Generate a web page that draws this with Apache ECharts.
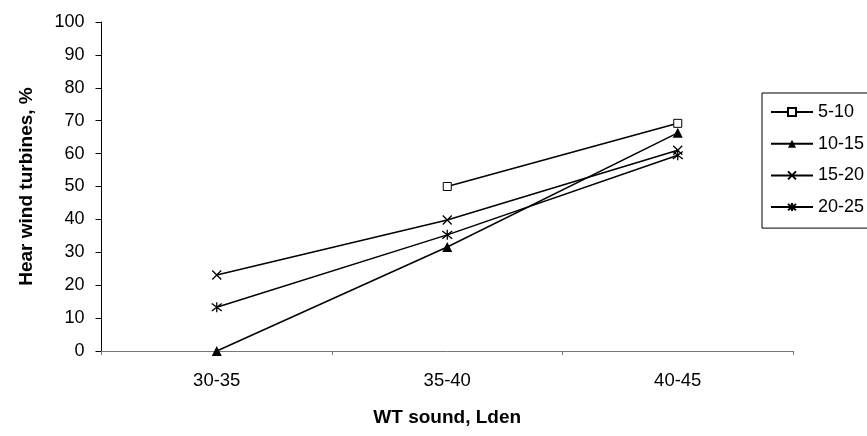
<!DOCTYPE html>
<html>
<head>
<meta charset="utf-8">
<script src="https://cdn.jsdelivr.net/npm/echarts@6/dist/echarts.min.js"></script>
<style>
html,body{margin:0;padding:0;background:#fff;}
#c{width:867px;height:436px;}
</style>
</head>
<body>
<div id="c"></div>
<script>
var categories = ['30-35', '35-40', '40-45'];
var seriesNames = ['5-10', '10-15', '15-20', '20-25'];
var s5_10 = [null, 50, 69.2];
var s10_15 = [0, 31.6, 66.3];
var s15_20 = [23.1, 39.8, 61];
var s20_25 = [13.3, 35.3, 59.5];
var yTicks = [0, 100, 10];
var xTitle = 'WT sound, Lden';
var yTitle = 'Hear wind turbines, %';

var FONT = '"Liberation Sans", Arial, sans-serif';
var chart = echarts.init(document.getElementById('c'), null, {renderer: 'canvas'});

var symbols = [
  {symbol: 'rect', size: 8, color: '#fff', bw: 1},
  {symbol: 'triangle', size: 10, color: '#000', bw: 0},
  {symbol: 'path://M0,0L10,10M10,0L0,10', size: 9, color: '#000', bw: 1.3},
  {symbol: 'path://M0,0L10,10M10,0L0,10M5,-1.5L5,11.5', size: 10, color: '#000', bw: 1.3}
];
var data = [s5_10, s10_15, s15_20, s20_25];

var series = seriesNames.map(function (n, i) {
  var s = symbols[i];
  return {
    name: n,
    type: 'line',
    data: data[i],
    connectNulls: false,
    symbol: s.symbol,
    symbolSize: s.size,
    showAllSymbol: true,
    lineStyle: {color: '#000', width: 1.5},
    itemStyle: {color: s.color, borderColor: '#000', borderWidth: s.bw},
    emphasis: {disabled: true},
    animation: false,
    z: 3
  };
});

chart.setOption({
  animation: false,
  backgroundColor: '#fff',
  textStyle: {fontFamily: FONT},
  grid: {left: 101.5, right: 74, top: 22, bottom: 85, containLabel: false},
  legend: {
    orient: 'vertical',
    left: 762,
    top: 93,
    padding: [10, 40, 12, 8],
    borderColor: '#000',
    borderWidth: 1,
    itemWidth: 42,
    itemHeight: 10,
    itemGap: 13.7,
    textStyle: {fontFamily: FONT, fontSize: 18, color: '#000'},
    data: seriesNames
  },
  xAxis: {
    type: 'category',
    data: categories,
    boundaryGap: true,
    axisLine: {lineStyle: {color: '#777', width: 1}},
    axisTick: {show: true, length: 4, alignWithLabel: false, lineStyle: {color: '#777'}},
    axisLabel: {fontFamily: FONT, fontSize: 18.5, color: '#000', margin: 20},
    splitLine: {show: false},
    name: xTitle,
    nameLocation: 'middle',
    nameGap: 57,
    nameTextStyle: {fontFamily: FONT, fontSize: 19, fontWeight: 'bold', color: '#000'}
  },
  yAxis: {
    type: 'value',
    min: yTicks[0],
    max: yTicks[1],
    interval: yTicks[2],
    axisLine: {show: true, lineStyle: {color: '#000', width: 1}},
    axisTick: {show: true, length: 6, lineStyle: {color: '#000'}},
    axisLabel: {fontFamily: FONT, fontSize: 18, color: '#000', margin: 17},
    splitLine: {show: false},
    name: yTitle,
    nameLocation: 'middle',
    nameGap: 65,
    nameRotate: 90,
    nameTextStyle: {fontFamily: FONT, fontSize: 19, fontWeight: 'bold', color: '#000'}
  },
  series: series
});
</script>
</body>
</html>
